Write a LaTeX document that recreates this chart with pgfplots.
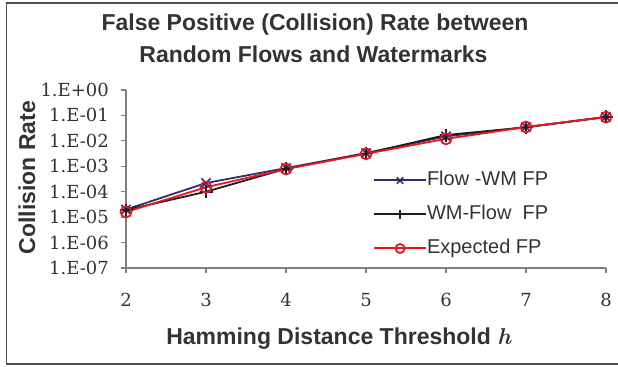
\documentclass[border=0pt]{standalone}
\usepackage{fontspec}
\setsansfont{Liberation Sans}
\newfontfamily\tickfont{DejaVu Serif}
\usepackage{pgfplots}
\pgfplotsset{compat=1.18}
\definecolor{txt}{HTML}{333333}
\definecolor{navyc}{HTML}{2F2F70}
\definecolor{blk}{HTML}{1E1E1E}
\definecolor{redc}{HTML}{EC1620}
\definecolor{axgray}{HTML}{7F7F7F}
\definecolor{framegray}{HTML}{4D4D4D}
\begin{document}
\begin{tikzpicture}[x=1bp,y=1bp]
\useasboundingbox (0,0) rectangle (618,366);
\draw[framegray, line width=1.6bp] (630,363) -- (6.5,363) -- (6.5,2) -- (630,2);
\node[font=\sffamily\bfseries\fontsize{23bp}{28bp}\selectfont, text=txt, anchor=base] at (315,336) {False Positive (Collision) Rate between};
\node[font=\sffamily\bfseries\fontsize{23bp}{28bp}\selectfont, text=txt, anchor=base] at (313.5,304) {Random Flows and Watermarks};
\node[font=\sffamily\bfseries\fontsize{23bp}{28bp}\selectfont, text=txt, anchor=base] at (339,22) {Hamming Distance Threshold \textbf{\textit{\rmfamily h}}};
\node[font=\sffamily\bfseries\fontsize{23bp}{28bp}\selectfont, text=txt, anchor=base, rotate=90] at (35,188.5) {Collision Rate};
\begin{axis}[
  at={(126bp,98bp)}, anchor=south west,
  scale only axis, width=480bp, height=178bp,
  xmin=2, xmax=8, ymode=log, ymin=1e-7, ymax=1,
  axis lines*=left,
  axis line style={axgray, line width=1.2bp},
  xtick={2,3,4,5,6,7,8},
  ytick={1e-7,1e-6,1e-5,1e-4,1e-3,1e-2,1e-1,1},
  yticklabels={1.E-07,1.E-06,1.E-05,1.E-04,1.E-03,1.E-02,1.E-01,1.E+00},
  yminorticks=false,
  /pgf/number format/assume math mode=true,
  tick align=outside, major tick length=5bp,
  tick style={axgray, line width=1.2bp},
  tick label style={font=\tickfont\fontsize{18bp}{22bp}\selectfont, text=txt, inner sep=0pt},
  yticklabel style={anchor=east, xshift=-12bp},
  xticklabel style={anchor=north, yshift=-20bp},
  clip=false,
  legend cell align=left,
  legend image code/.code={\draw[mark repeat=2,mark phase=2, line width=2bp, mark size=4.5bp] plot coordinates {(0bp,0bp) (26bp,0bp) (52bp,0bp)};},
  legend style={draw=none, fill=none, at={(0.5146,0.545)}, anchor=north west, inner sep=0pt, outer sep=0pt,
    row sep=15bp, font=\sffamily\fontsize{20bp}{24bp}\selectfont, text=txt,
    nodes={inner sep=0pt, text height=15bp, text depth=4bp},
    /tikz/every even column/.append style={column sep=7bp}},
]
\addplot[navyc, line width=1.8bp, mark=x, mark size=6.5bp, mark options={line width=1.6bp}] coordinates {
(2,2.0e-5) (3,2.2e-4) (4,8.5e-4) (5,3.3e-3) (6,1.5e-2) (7,3.5e-2) (8,8.7e-2)};
\addlegendentry{Flow -WM FP}
\addplot[blk, line width=1.8bp, mark=+, mark size=6.5bp, mark options={line width=1.6bp}] coordinates {
(2,1.9e-5) (3,1.0e-4) (4,8.0e-4) (5,3.2e-3) (6,1.7e-2) (7,3.4e-2) (8,8.7e-2)};
\addlegendentry{WM-Flow\ \ FP}
\addplot[redc, line width=1.8bp, mark=o, mark size=5.5bp, mark options={line width=1.8bp, fill=none}] coordinates {
(2,1.6e-5) (3,1.5e-4) (4,7.8e-4) (5,3.1e-3) (6,1.2e-2) (7,3.5e-2) (8,8.6e-2)};
\addlegendentry{Expected FP}
\end{axis}
\end{tikzpicture}
\end{document}
